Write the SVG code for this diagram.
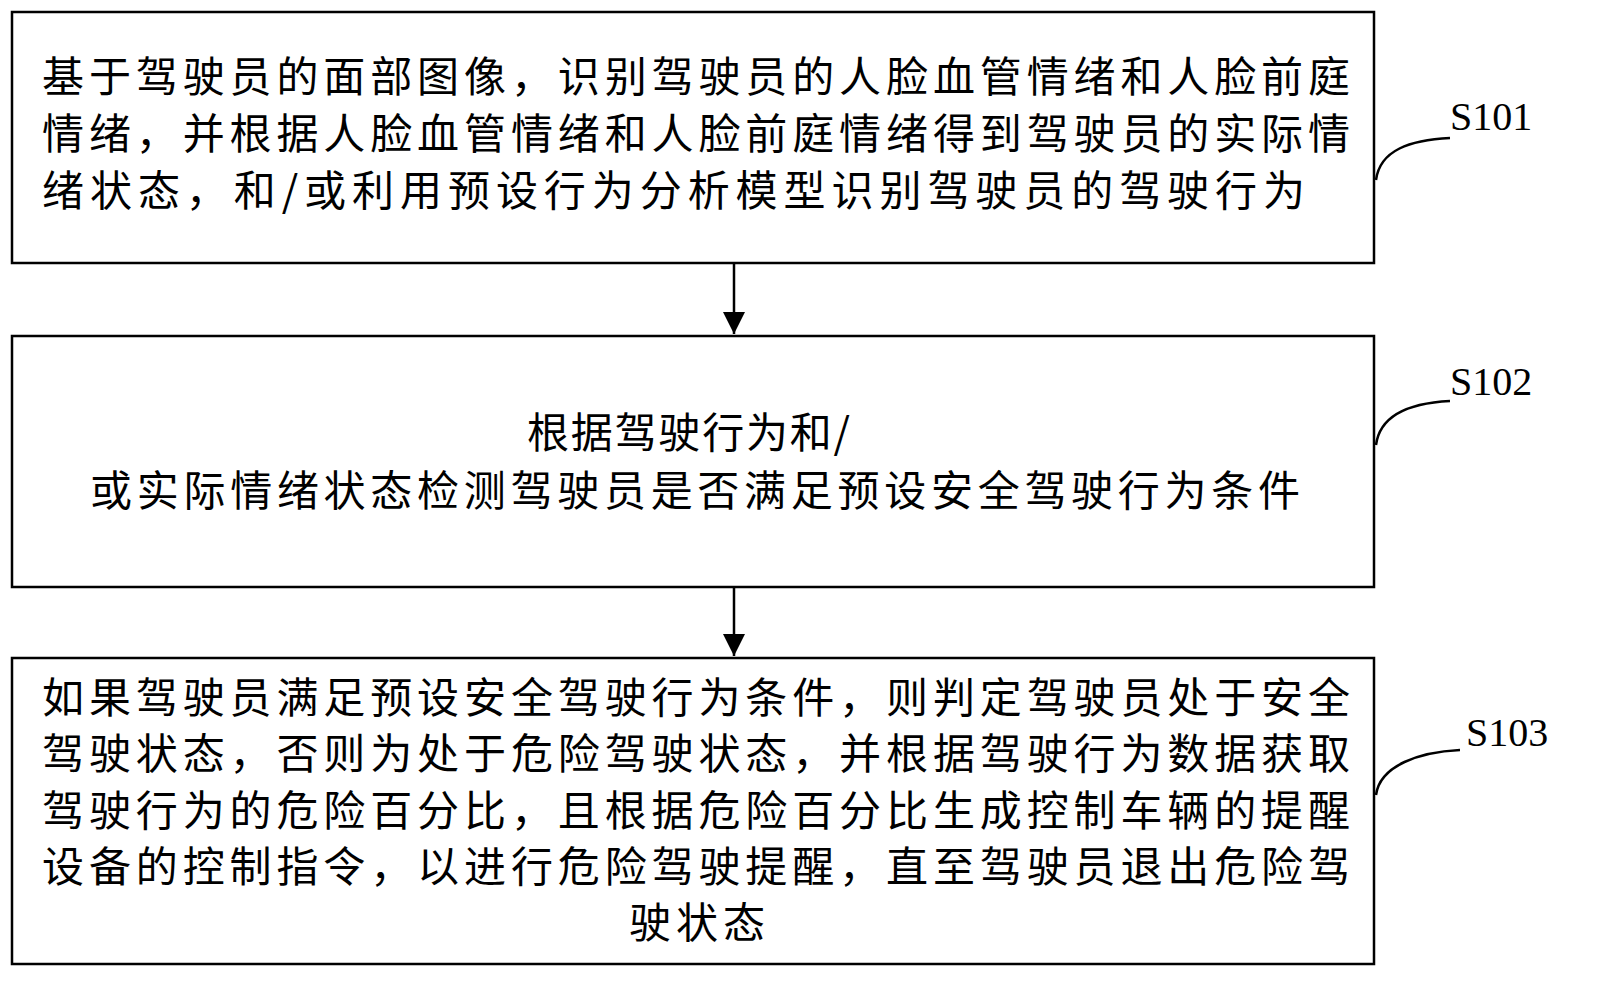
<svg xmlns="http://www.w3.org/2000/svg" width="1601" height="996" viewBox="0 0 1601 996">
<style>
.box{fill:#fff;stroke:#000;stroke-width:2.5}
.t{font-family:"Noto Sans CJK SC","Noto Sans",sans-serif;font-size:42px;fill:#000}
.lab{font-family:"Liberation Serif",serif;font-size:40px;fill:#000}
.c{fill:none;stroke:#000;stroke-width:2.5}
</style>
<defs>
<marker id="a" viewBox="0 0 10 10" markerWidth="22" markerHeight="22" refX="10" refY="5" orient="auto" markerUnits="userSpaceOnUse"><path d="M0,0 L10,5 L0,10 Z" fill="#000"/></marker></defs>
<rect width="1601" height="996" fill="#fff"/>
<g id="n1"><rect class="box" x="12" y="12" width="1362" height="251"/>
<text class="t" x="42" y="92" textLength="1308" lengthAdjust="spacing">基于驾驶员的面部图像，识别驾驶员的人脸血管情绪和人脸前庭</text>
<text class="t" x="42" y="149" textLength="1308" lengthAdjust="spacing">情绪，并根据人脸血管情绪和人脸前庭情绪得到驾驶员的实际情</text>
<text class="t" x="42" y="206" textLength="1263" lengthAdjust="spacing">绪状态，和/或利用预设行为分析模型识别驾驶员的驾驶行为</text></g>
<g id="n2"><rect class="box" x="12" y="336" width="1362" height="251"/>
<text class="t" x="527" y="448" textLength="323" lengthAdjust="spacing">根据驾驶行为和/</text>
<text class="t" x="90" y="506" textLength="1210" lengthAdjust="spacing">或实际情绪状态检测驾驶员是否满足预设安全驾驶行为条件</text></g>
<g id="n3"><rect class="box" x="12" y="658" width="1362" height="306"/>
<text class="t" x="42" y="713" textLength="1308" lengthAdjust="spacing">如果驾驶员满足预设安全驾驶行为条件，则判定驾驶员处于安全</text>
<text class="t" x="42" y="769" textLength="1308" lengthAdjust="spacing">驾驶状态，否则为处于危险驾驶状态，并根据驾驶行为数据获取</text>
<text class="t" x="42" y="826" textLength="1308" lengthAdjust="spacing">驾驶行为的危险百分比，且根据危险百分比生成控制车辆的提醒</text>
<text class="t" x="42" y="882" textLength="1308" lengthAdjust="spacing">设备的控制指令，以进行危险驾驶提醒，直至驾驶员退出危险驾</text>
<text class="t" x="629" y="938" textLength="136" lengthAdjust="spacing">驶状态</text></g>
<g id="labels">
<text class="lab" x="1450" y="130">S101</text>
<text class="lab" x="1450" y="395">S102</text>
<text class="lab" x="1466" y="746">S103</text></g>
<g id="connectors">
<path class="c" d="M734,263 V334" marker-end="url(#a)"/>
<path class="c" d="M734,587 V656" marker-end="url(#a)"/>
<path class="c" d="M1376,180 C1380,150 1410,140 1450,138"/>
<path class="c" d="M1376,445 C1380,415 1410,403 1450,401"/>
<path class="c" d="M1376,795 C1380,765 1420,752 1460,750"/>
</g>
</svg>
